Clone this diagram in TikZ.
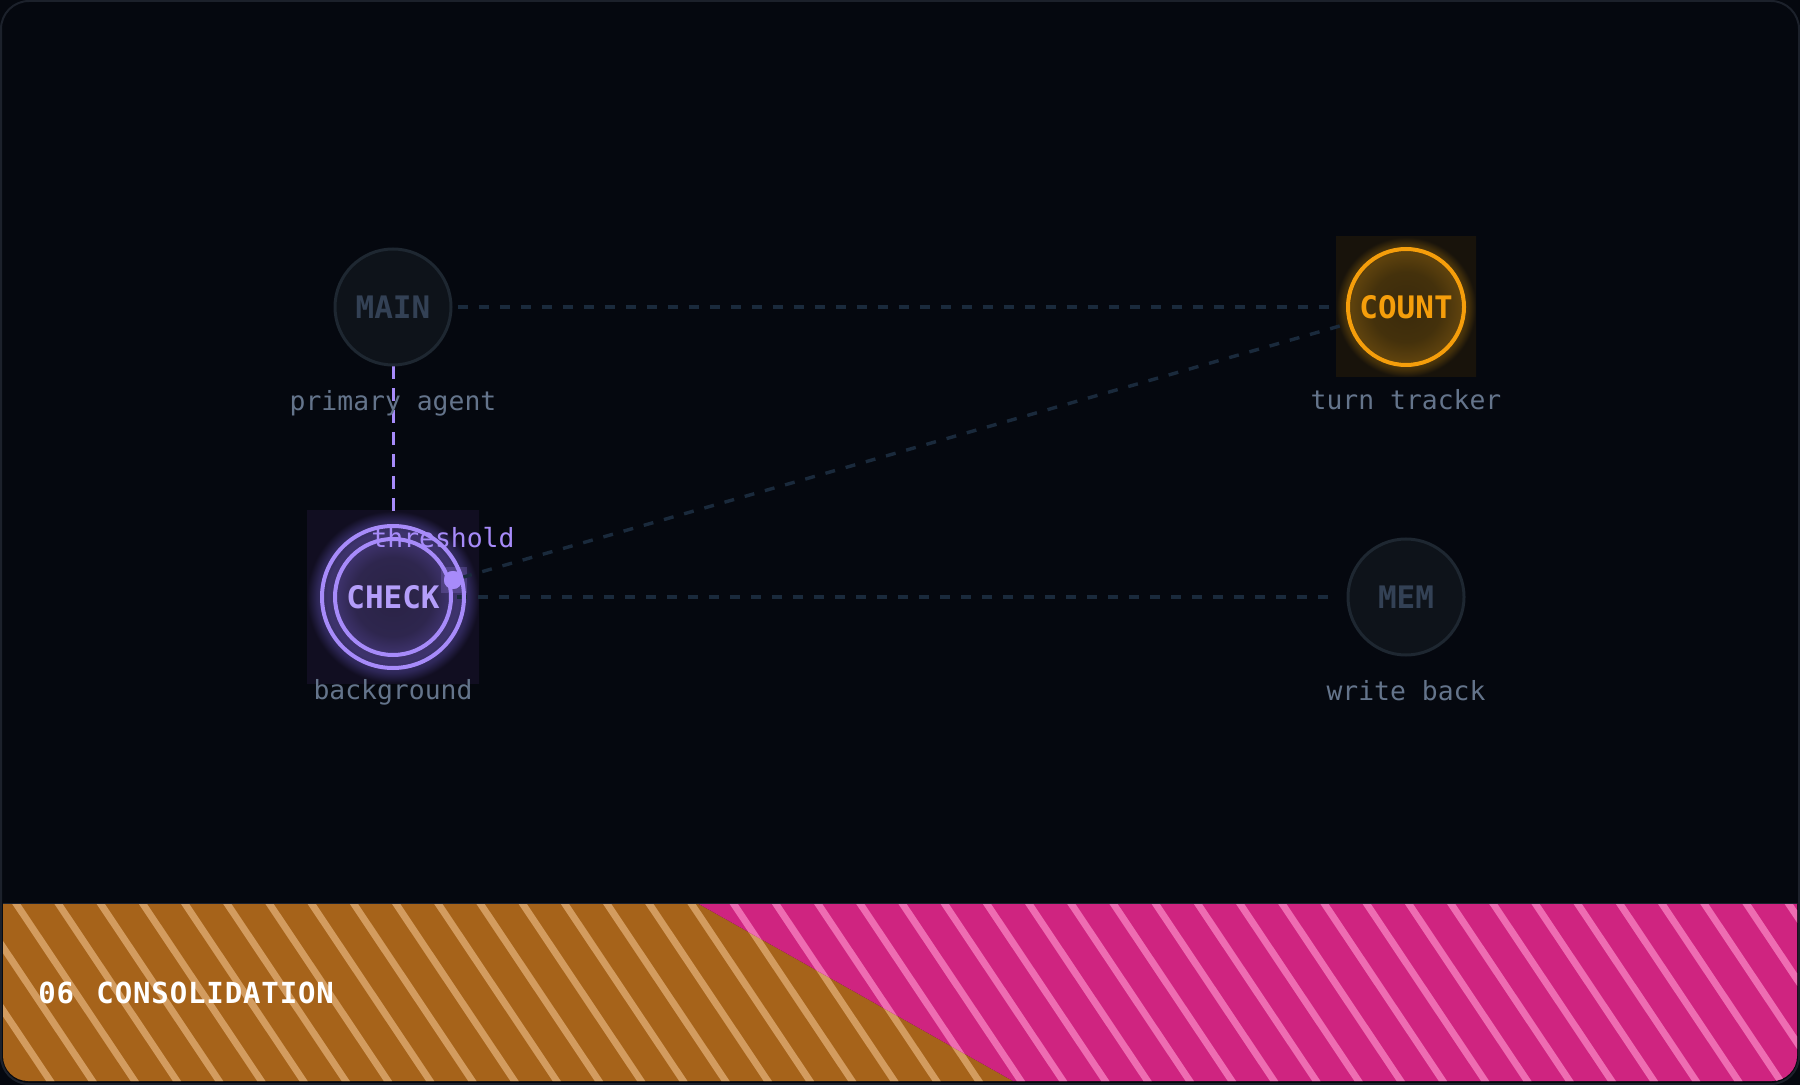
\documentclass[tikz,border=0pt]{standalone}
\usepackage{fontspec}
\newfontfamily\monof{DejaVu Sans Mono}
\newfontfamily\monofls[LetterSpace=3]{DejaVu Sans Mono}
\definecolor{bgc}{HTML}{05080F}
\definecolor{framec}{HTML}{1C212B}
\definecolor{dimfill}{HTML}{0E131A}
\definecolor{dimstroke}{HTML}{1E2731}
\definecolor{dimtext}{HTML}{334155}
\definecolor{lblc}{HTML}{64748B}
\definecolor{edgec}{HTML}{1A2A3C}
\definecolor{violetc}{HTML}{A78BFA}
\definecolor{violettext}{HTML}{B49EFA}
\definecolor{amberc}{HTML}{F59E0B}
\definecolor{orangeband}{HTML}{A6631A}
\definecolor{orangestripe}{HTML}{D39C5F}
\definecolor{pinkband}{HTML}{CF2480}
\definecolor{pinkstripe}{HTML}{EE6DB2}
\definecolor{bandline}{HTML}{1C2330}
\definecolor{ag0}{HTML}{3A2A0C}
\definecolor{ag1}{HTML}{44310C}
\definecolor{ag2}{HTML}{5E420D}
\definecolor{ag3}{HTML}{402E0B}
\definecolor{ag4}{HTML}{18130B}
\definecolor{vg0}{HTML}{2A2345}
\definecolor{vg1}{HTML}{2E264E}
\definecolor{vg2}{HTML}{3C3169}
\definecolor{vg3}{HTML}{3D336C}
\definecolor{vg4}{HTML}{2E2758}
\definecolor{vg5}{HTML}{110E21}
\pgfdeclareradialshading{amberglow}{\pgfpointorigin}{color(0bp)=(ag0); color(12.5bp)=(ag1); color(19.5bp)=(ag2); color(22.5bp)=(ag3); color(25bp)=(ag4); color(50bp)=(ag4)}
\pgfdeclareradialshading{violetglow}{\pgfpointorigin}{color(0bp)=(vg0); color(11.5bp)=(vg1); color(16bp)=(vg2); color(19bp)=(vg3); color(22bp)=(vg4); color(25bp)=(vg5); color(50bp)=(vg5)}
\begin{document}
\begin{tikzpicture}[x=0.5pt,y=-0.5pt,
  dimnode/.style={circle, draw=dimstroke, line width=1.5pt, fill=dimfill, minimum size=58pt, inner sep=0pt, text=dimtext, font=\monof\bfseries\fontsize{15.5}{18}\selectfont},
  amberring/.style={circle, draw=amberc, line width=2pt, minimum size=58pt, inner sep=0pt, text=amberc, font=\monof\bfseries\fontsize{15.5}{18}\selectfont},
  violetring/.style={circle, draw=violetc, line width=2pt, inner sep=0pt, text=violettext, font=\monof\bfseries\fontsize{15.5}{18}\selectfont},
  lbl/.style={text=lblc, font=\monof\fontsize{13.2}{16}\selectfont, anchor=base, inner sep=0pt},
  edgeline/.style={draw=edgec, line width=1.7pt, dash pattern=on 5pt off 5.5pt},
  vedge/.style={draw=violetc, line width=1.5pt, dash pattern=on 6.5pt off 4.5pt},
  stripeO/.style={draw=orangestripe, line width=3.45pt},
  stripeP/.style={draw=pinkstripe, line width=3.45pt}]
\useasboundingbox (0,0) rectangle (1800,1085);
\fill[bgc] (0,0) rectangle (1800,1085);
\draw[framec, line width=1pt, fill=bgc, rounded corners=14pt] (1,1) rectangle (1799,1084);
% footer band
\begin{scope}
  \clip[rounded corners=12.5pt] (3,3) rectangle (1797,1081);
  \clip (0,903) rectangle (1800,1085);
  \begin{scope}
    \clip (0,900) -- (697,903) -- (1020,1085) -- (0,1085) -- cycle;
    \fill[orangeband] (0,900) rectangle (1800,1085);
    \foreach \k in {-4,...,30} {
      \draw[stripeO] ({15.7+42.2*\k-6},894) -- ({15.7+42.2*\k+125},1090);
    }
  \end{scope}
  \begin{scope}
    \clip (697,900) -- (1800,900) -- (1800,1085) -- (1020,1085) -- (697,903) -- cycle;
    \fill[pinkband] (0,900) rectangle (1800,1085);
    \foreach \k in {10,...,45} {
      \draw[stripeP] ({15.7+42.2*\k-6},894) -- ({15.7+42.2*\k+125},1090);
    }
  \end{scope}
  \draw[bandline, line width=1pt] (0,903) -- (1800,903);
\end{scope}
\node[anchor=base west, inner sep=0pt, text=white, font=\monofls\bfseries\fontsize{14.5}{17}\selectfont] (title) at (38,1003) {06\hspace{2pt} CONSOLIDATION};
% glows
\shade[shading=amberglow] (1336,237) rectangle (1476,377);
\shade[shading=violetglow] (307,511) rectangle (479,683);
\fill[violetc, opacity=0.22] (441,567) rectangle (467,593);
% node positions
\coordinate (pmain) at (393,307);
\coordinate (pcount) at (1406,307);
\coordinate (pcheck) at (393,597);
\coordinate (pmem) at (1406,597);
% geometry nodes for edges
\node[circle, minimum size=58pt, inner sep=0pt, line width=1.5pt] (main) at (pmain) {};
\node[circle, minimum size=58pt, inner sep=0pt, line width=2pt] (count) at (pcount) {};
\node[circle, minimum size=71pt, inner sep=0pt, line width=2pt] (check) at (pcheck) {};
\node[circle, minimum size=58pt, inner sep=0pt, line width=1.5pt] (mem) at (pmem) {};
\node[circle, fill=violetc, minimum size=9pt, inner sep=0pt] (hdl) at (453,580) {};
% edges
\draw[edgeline, shorten <=2.5pt, shorten >=7pt] (main) -- (count);
\draw[edgeline, shorten <=-4.5pt, shorten >=7pt] (check) -- (mem);
\draw[edgeline] (hdl) -- (count);
\draw[vedge, shorten >=6pt] (main) -- (check);
% visible nodes
\node[dimnode] (mainv) at (pmain) {MAIN};
\node[dimnode] (memv) at (pmem) {MEM};
\node[amberring] (countv) at (pcount) {COUNT};
\node[violetring, minimum size=71pt] (checkouter) at (pcheck) {};
\node[violetring, minimum size=58pt] (checkv) at (pcheck) {CHECK};
\node[circle, fill=violetc, minimum size=9pt, inner sep=0pt] (hdlv) at (453,580) {};
% labels
\node[lbl] (lmain) at (393,411) {primary agent};
\node[lbl] (lcount) at (1406,410) {turn tracker};
\node[lbl] (lcheck) at (393,699) {background};
\node[lbl] (lmem) at (1406,700) {write back};
\node[lbl, text=violetc] (thr) at (443,547) {threshold};
\end{tikzpicture}
\end{document}
